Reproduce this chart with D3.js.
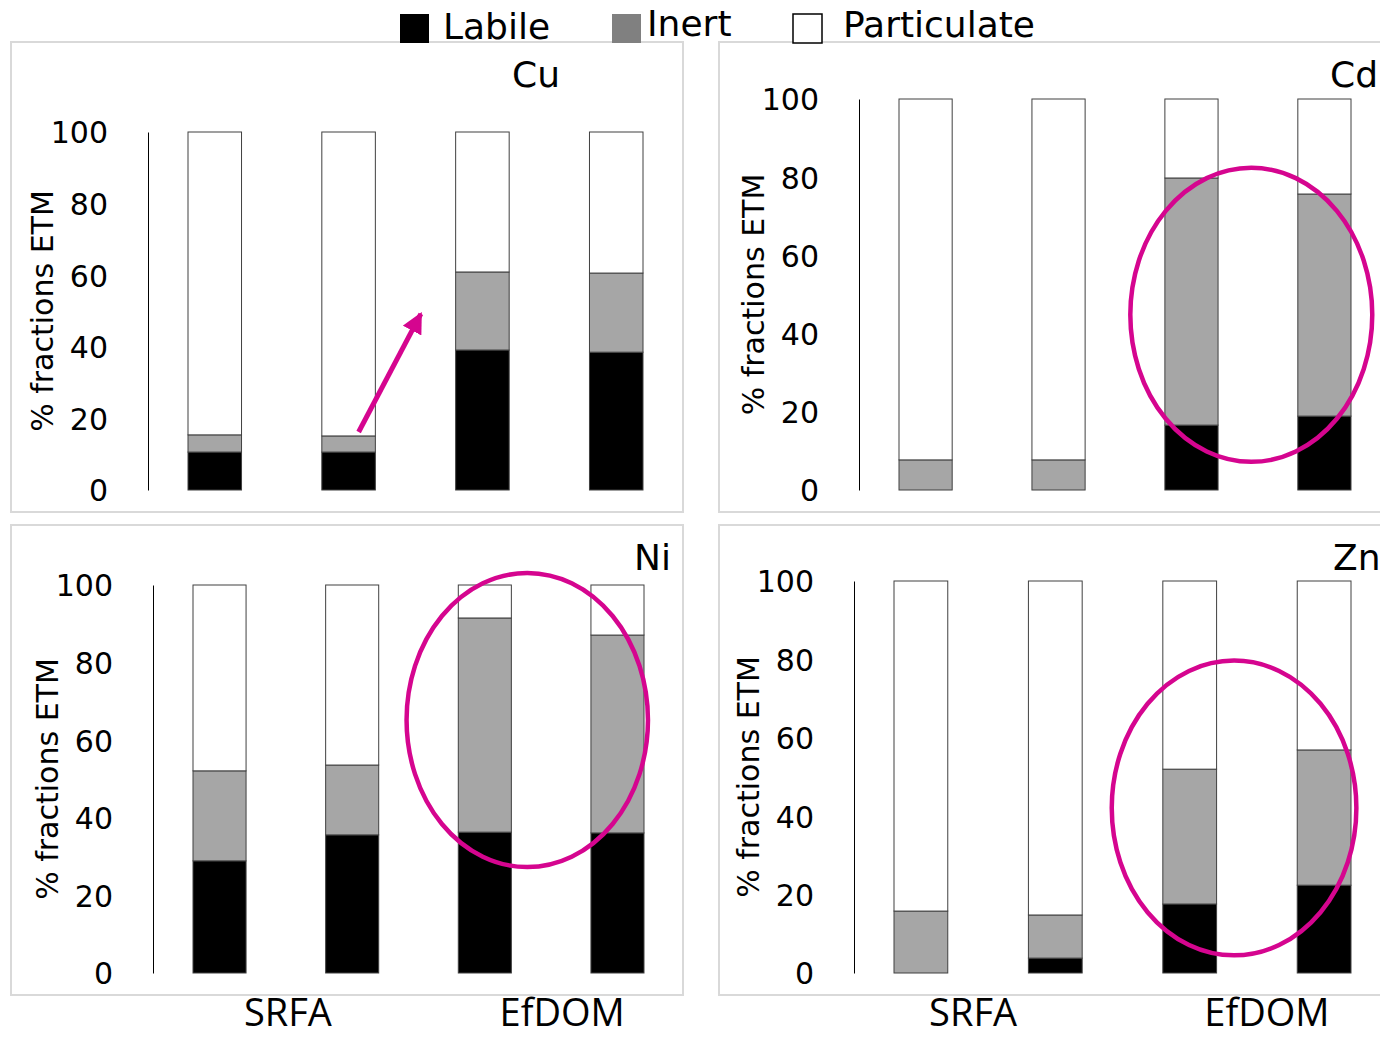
<!DOCTYPE html>
<html>
<head>
<meta charset="utf-8">
<script src="https://cdn.jsdelivr.net/npm/d3@7"></script>
<style>
  body { margin: 0; background: #fff; }
  text { font-family: "DejaVu Sans", sans-serif; fill: #000; }
</style>
</head>
<body>
<svg id="chart" width="1380" height="1037"></svg>
<script>
// chart data
var metals = ["Cu", "Cd", "Ni", "Zn"];
var samples = ["SRFA a", "SRFA b", "EfDOM a", "EfDOM b"];
var groups = ["SRFA", "EfDOM"];
var fractions = ["Labile", "Inert", "Particulate"];
var yTicks = [0, 20, 40, 60, 80, 100];

// % of each fraction, one row per metal, one value per sample
var labile      = [[10.6, 10.6, 39.1, 38.5], [0, 0, 16.6, 18.9], [28.9, 35.6, 36.3, 36.1], [0, 3.8, 17.6, 22.4]];
var inert       = [[4.8, 4.5, 21.8, 22.1], [7.7, 7.7, 63.2, 56.8], [23.2, 18.0, 55.2, 51.0], [15.8, 11.0, 34.4, 34.5]];
var particulate = [[84.6, 84.9, 39.1, 39.4], [92.3, 92.3, 20.2, 24.3], [47.9, 46.4, 8.5, 12.9], [84.2, 85.2, 48.0, 43.1]];

// highlight ellipses: position in bar steps from first bar, centre value, radii
var ellipseMetal = ["Cd", "Ni", "Zn"];
var ellipsePos   = [2.45, 2.32, 2.33];
var ellipseValue = [44.8, 65.2, 42.1];
var ellipseRy    = [37.6, 37.9, 37.6];
// arrow in Cu panel: [barPos, value]
var arrowFrom = [1.075, 16.2];
var arrowTo   = [1.54, 49.2];

/**
 * layout of each panel on the page
 */
var panels = [
    {box: [11, 42, 672, 470],  axisX: 148, top: 132, bottom: 490, barL: 188, barR: 643, titleX: 512, titleY: 87, shift: [0, 10]},
    {box: [719, 42, 672, 470], axisX: 859, top: 99,  bottom: 490, barL: 899, barR: 1351, titleX: 1330, titleY: 87, shift: [0, 0]},
    {box: [11, 525, 672, 470], axisX: 153, top: 585, bottom: 973, barL: 193, barR: 644, titleX: 634, titleY: 570, shift: [2, 11]},
    {box: [719, 525, 672, 470], axisX: 854, top: 581, bottom: 973, barL: 894, barR: 1351, titleX: 1333, titleY: 570, shift: [-15, 10]}
];

var colors = {Labile: "#000000", Inert: "#a6a6a6", Particulate: "#ffffff"};
var magenta = "#d5058f";
var pad = 0.6;

var svg = d3.select("#chart");

svg.append("defs").append("marker")
        .attr("id", "head")
        .attr("viewBox", "0 0 10 10")
        .attr("refX", 9)
        .attr("refY", 5)
        .attr("markerWidth", 4.2)
        .attr("markerHeight", 4.2)
        .attr("orient", "auto")
        .append("path")
        .attr("d", "M0,0L10,5L0,10z")
        .style("fill", magenta);

var stack = d3.stack().keys(fractions);

metals.forEach(function(metal, m) {
    var p = panels[m];
    var g = svg.append("g");

    g.append("rect")
            .attr("x", p.box[0])
            .attr("y", p.box[1])
            .attr("width", p.box[2])
            .attr("height", p.box[3])
            .style("fill", "none")
            .style("stroke", "#d9d9d9")
            .style("stroke-width", "2px");

    var step = (p.barR - p.barL) / (samples.length - pad);
    var x = d3.scaleBand()
            .domain(samples)
            .range([p.barL - step * pad, p.barR + step * pad])
            .padding(pad);
    var y = d3.scaleLinear().domain([0, 100]).range([p.bottom, p.top]);
    var firstCenter = x(samples[0]) + x.bandwidth() / 2;
    var xPos = function(v) { return firstCenter + v * x.step(); };

    var rows = samples.map(function(s, i) {
        return {sample: s, Labile: labile[m][i], Inert: inert[m][i], Particulate: particulate[m][i]};
    });

    g.selectAll("g.layer")
            .data(stack(rows))
            .enter().append("g")
            .attr("class", "layer")
            .style("fill", function(d) { return colors[d.key]; })
            .selectAll("rect")
            .data(function(d) { return d.filter(function(e) { return e[1] - e[0] > 0; }); })
            .enter().append("rect")
            .attr("x", function(d) { return x(d.data.sample); })
            .attr("y", function(d) { return y(d[1]); })
            .attr("width", x.bandwidth())
            .attr("height", function(d) { return y(d[0]) - y(d[1]); })
            .style("stroke", "#404040")
            .style("stroke-width", "1px");

    // y axis: plain line and labels, no ticks
    var axis = g.append("g")
            .attr("transform", "translate(" + p.axisX + ",0)")
            .call(d3.axisLeft(y).tickValues(yTicks).tickSize(0).tickPadding(40));
    axis.select(".domain").style("stroke", "#000").style("stroke-width", "1px");
    axis.selectAll("text")
            .style("font-family", "DejaVu Sans")
            .style("font-size", "30px")
            .attr("dy", "0.36em");

    g.append("text")
            .attr("transform", "translate(" + (p.axisX - 106) + "," + ((p.top + p.bottom) / 2) + ") rotate(-90)")
            .attr("text-anchor", "middle")
            .attr("dy", "0.36em")
            .style("font-size", "30px")
            .text("% fractions ETM");

    g.append("text")
            .attr("x", p.titleX)
            .attr("y", p.titleY)
            .style("font-size", "36px")
            .text(metal);

    var e = ellipseMetal.indexOf(metal);
    if (e >= 0) {
        g.append("ellipse")
                .attr("cx", xPos(ellipsePos[e]))
                .attr("cy", y(ellipseValue[e]))
                .attr("rx", 0.91 * x.step())
                .attr("ry", y(0) - y(ellipseRy[e]))
                .style("fill", "none")
                .style("stroke", magenta)
                .style("stroke-width", "4.5px");
    }

    if (metal === "Cu") {
        g.append("line")
                .attr("x1", xPos(arrowFrom[0]))
                .attr("y1", y(arrowFrom[1]))
                .attr("x2", xPos(arrowTo[0]))
                .attr("y2", y(arrowTo[1]))
                .style("stroke", magenta)
                .style("stroke-width", "5px")
                .attr("marker-end", "url(#head)");
    }

    // group labels under the bottom row
    if (m >= 2) {
        groups.forEach(function(name, k) {
            var a = x(samples[k * 2]), b = x(samples[k * 2 + 1]) + x.bandwidth();
            g.append("text")
                    .attr("x", (a + b) / 2 + p.shift[k])
                    .attr("y", 1026)
                    .attr("text-anchor", "middle")
                    .style("font-family", "'Open Sans', sans-serif")
                    .style("font-size", "38px")
                    .text(name);
        });
    }
});

// legend on top
var legendX = [400, 612, 793];
var legendTextX = [443, 647, 843];
var legendFill = ["#000000", "#808080", "#ffffff"];
var legendBaseline = [39, 36, 37];
fractions.forEach(function(f, i) {
    svg.append("rect")
            .attr("x", legendX[i])
            .attr("y", 14)
            .attr("width", 29)
            .attr("height", 29)
            .style("fill", legendFill[i])
            .style("stroke", i === 2 ? "#000" : "none")
            .style("stroke-width", "1.5px");
    svg.append("text")
            .attr("x", legendTextX[i])
            .attr("y", legendBaseline[i])
            .style("font-size", "36px")
            .text(f);
});
</script>
</body>
</html>
